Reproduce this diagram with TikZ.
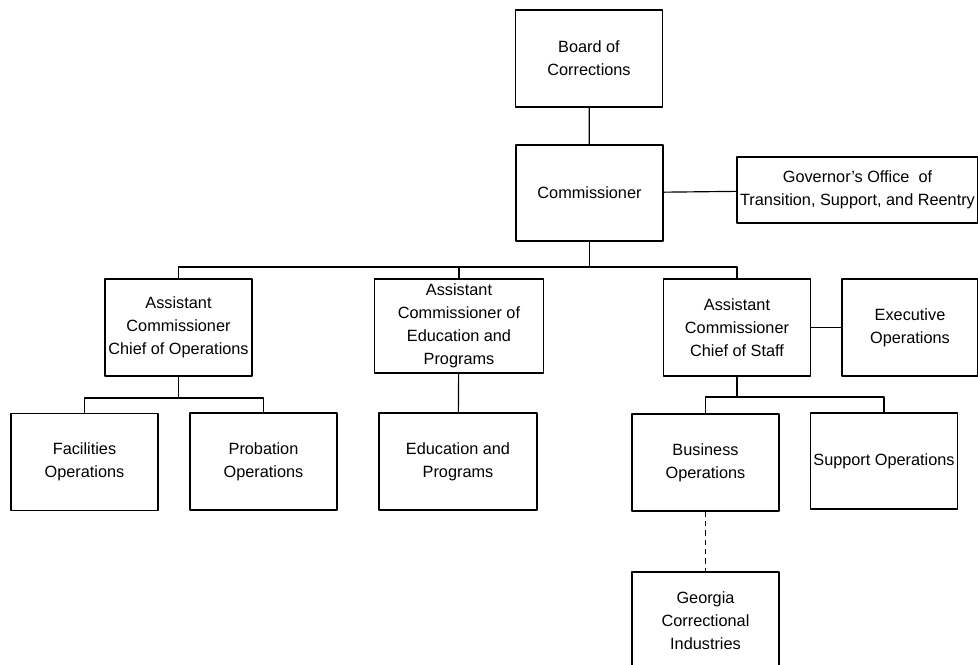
\documentclass[tikz,border=0pt]{standalone}
\usepackage{fontspec}
\setmainfont{Liberation Sans}
\begin{document}
\begin{tikzpicture}[x=0.03cm, y=-0.03cm, line join=round, line cap=butt,
		font=\fontsize{13.9}{19.6}\selectfont,
		box/.style={draw, line width=1pt, align=center, inner sep=0pt, minimum width=4.41cm, minimum height=2.91cm},
		link/.style={line width=1pt}]
					\useasboundingbox (0,0) rectangle (978,664);
					\node[box] (board) at (589,58.5) {Board of\\Corrections};
					\node[box, minimum height=2.88cm] (comm) at (589.5,193) {Commissioner};
					\node[box, minimum width=7.23cm, minimum height=1.98cm] (gov) at (857.5,190) {Governor's Office\ \ of\\Transition, Support, and Reentry};
					\node[box] (aco) at (178.5,327.5) {Assistant\\Commissioner\\Chief of Operations};
					\node[box, minimum width=5.07cm, minimum height=2.82cm] (ace) at (459,326) {Assistant\\Commissioner of\\Education and\\Programs};
					\node[box] (acs) at (737,327.5) {Assistant\\Commissioner\\Chief of Staff};
					\node[box, minimum width=4.08cm] (exe) at (910,327.5) {Executive\\Operations};
					\node[box] (fac) at (84.5,462) {Facilities\\Operations};
					\node[box] (prob) at (263.5,461.5) {Probation\\Operations};
					\node[box, minimum width=4.74cm] (edu) at (458,461.5) {Education and\\Programs};
					\node[box] (bus) at (705.5,462.5) {Business\\Operations};
					\node[box, minimum height=2.88cm] (sup) at (884,461) {Support Operations};
					\node[box] (gci) at (705.5,620.5) {Georgia\\Correctional\\Industries};
					\coordinate (top) at (0,267);
					\coordinate (left) at (0,398);
					\coordinate (right) at (0,397);
					\draw[link] (board) -- (comm);
					\draw[link] (comm) -- (gov);
					\draw[link] (comm.south) -- (comm.south |- top);
					\draw[link] (aco.north) -- (aco.north |- top) -- (acs.north |- top) -- (acs.north);
					\draw[link] (ace.north) -- (ace.north |- top);
					\draw[link] (acs) -- (exe);
					\draw[link] (aco.south) -- (aco.south |- left);
					\draw[link] (fac.north) -- (fac.north |- left) -- (prob.north |- left) -- (prob.north);
					\draw[link] (ace) -- (edu);
					\draw[link] (acs.south) -- (acs.south |- right);
					\draw[link] (bus.north) -- (bus.north |- right) -- (sup.north |- right) -- (sup.north);
					\draw[link, dash pattern=on 4.5pt off 3.5pt] (bus) -- (gci);
\end{tikzpicture}
\end{document}
